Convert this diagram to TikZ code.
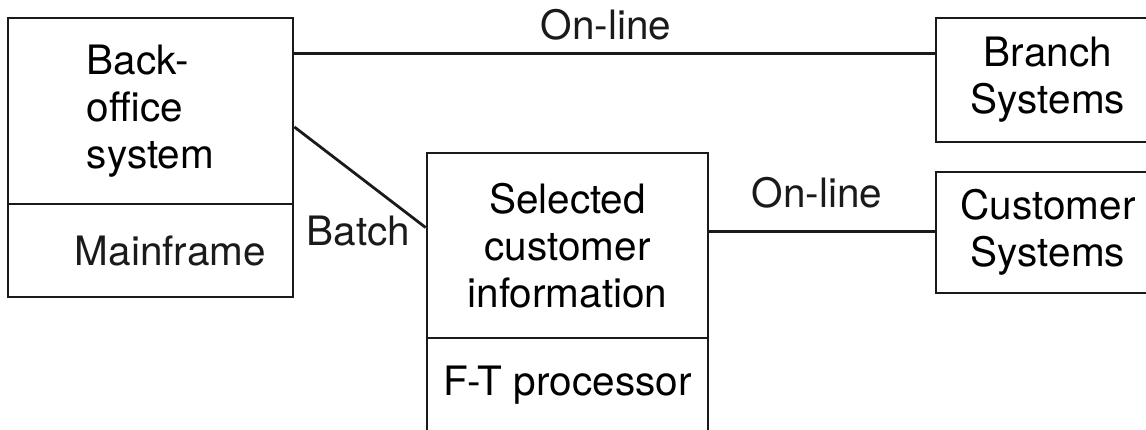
\documentclass[tikz,border=0pt]{standalone}
\usepackage{fontspec}
\setmainfont{TeX Gyre Heros}
\usepackage{tikz}
\usetikzlibrary{positioning,calc}
\definecolor{ink}{HTML}{1A1A1A}
\tikzset{
  partbox/.style={
    rectangle, draw=ink, line width=2.8pt,
    minimum width=#1, inner sep=0pt,
    font=\fontsize{40.5}{47}\selectfont, align=center
  },
  partbox/.default=285pt,
  lbl/.style={
    font=\fontsize{40.5}{47}\selectfont, text=ink, inner sep=0pt
  },
  link/.style={draw=ink, line width=2.8pt}
}
\begin{document}
\begin{tikzpicture}[x=1pt, y=-1pt]
  \clip (0,0) rectangle (1146,429);
  % back-office block
  \node[partbox, minimum height=186pt, align=left] (backtop) at (150.5,111) {Back-\\office\\system};
  \node[partbox, minimum height=93pt] (backbot) at (150.5,250.5) {};
  \node[lbl] (mainlbl) at ([xshift=20pt]backbot.center) {Mainframe};
  % F-T processor block
  \node[partbox=281pt, minimum height=185pt] (seltop) at (567.5,245.5) {Selected\\customer\\information};
  \node[partbox=281pt, minimum height=94pt] (selbot) at (567.5,385) {F-T processor};
  % remote systems
  \node[partbox=224pt, minimum height=124pt] (branch) at (1048,80) {Branch\\Systems};
  \node[partbox=224pt, minimum height=121pt] (cust) at (1048,232.5) {Customer\\Systems};
  % connections
  \draw[link] ([yshift=-37pt]backtop.north east) -- ([yshift=-37pt]branch.north west)
    node[lbl, pos=0.487, above=12pt] (online1) {On-line};
  \draw[link] ([yshift=-16pt]backtop.east) -- ([yshift=18pt]seltop.west)
    node[lbl, pos=0.895, anchor=north east, yshift=2pt] (batch) {Batch};
  \draw[link] ([yshift=14pt]seltop.east) -- ([yshift=14pt]seltop.east -| cust.west)
    node[lbl, pos=0.478, above=22pt] (online2) {On-line};
\end{tikzpicture}
\end{document}
